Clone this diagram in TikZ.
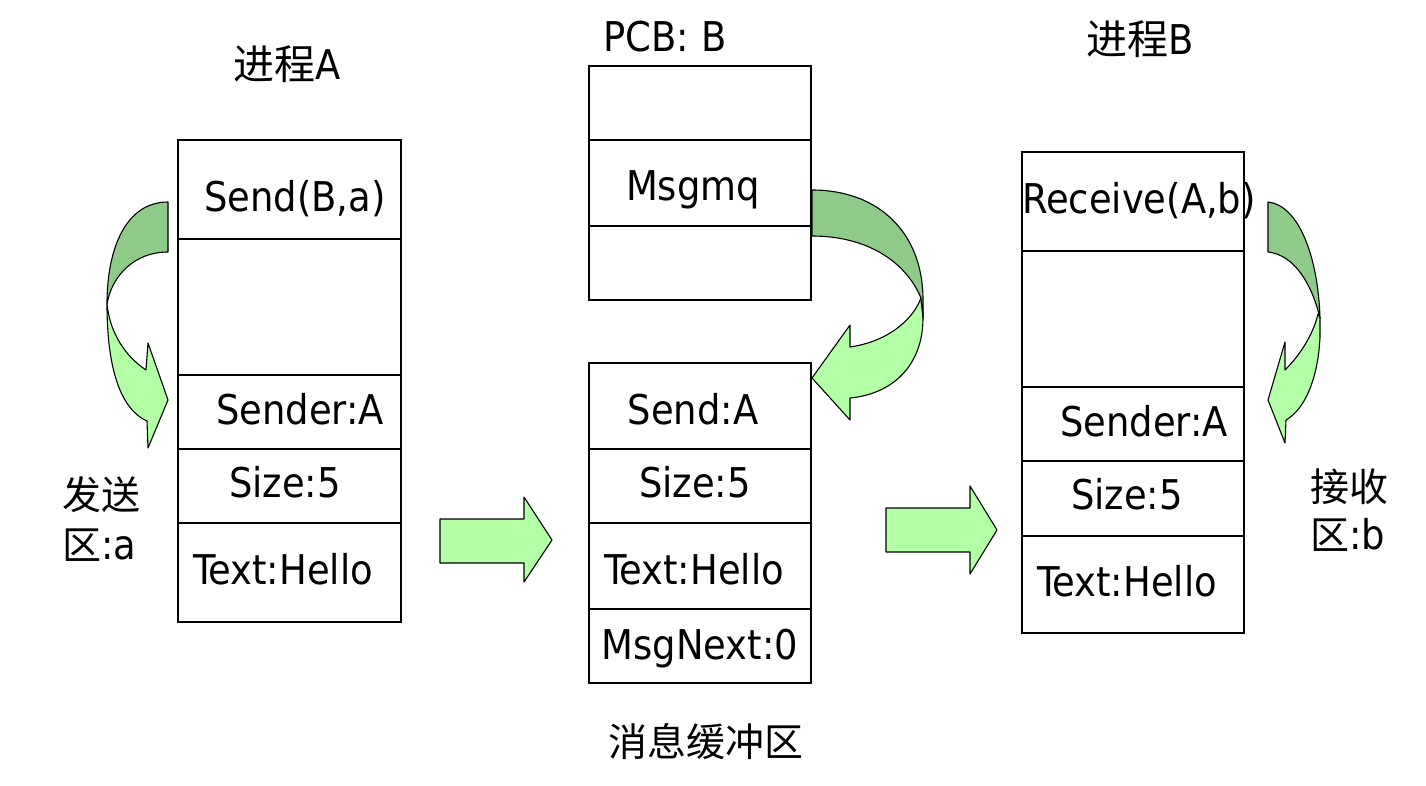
\documentclass[tikz,border=0pt]{standalone}
\usepackage{fontspec}
\setmainfont{DejaVu Sans Condensed}
\newfontfamily\cjk{Noto Sans CJK SC}
\definecolor{lightg}{HTML}{B3FFA6}
\definecolor{darkg}{HTML}{8FCB88}
\begin{document}
\begin{tikzpicture}[x=1pt,y=-1pt,
  cell/.style={draw=black,line width=1.3pt,inner sep=0pt,outer sep=0pt},
  acell/.style={cell,minimum width=223pt},
  bcell/.style={cell,minimum width=222pt},
  lbl/.style={anchor=base,inner sep=0pt,font=\fontsize{41}{48}\selectfont},
  zh/.style={anchor=base,inner sep=0pt,font=\fontsize{39}{48}\selectfont\cjk},
  shp/.style={draw=black,line width=1.1pt,line join=round}]
\useasboundingbox (0,0) rectangle (1426,786);
% Process A
\node[acell,minimum height=99pt] (a1) at (289.5,189.5) {};
\node[acell,minimum height=136pt] (a2) at (289.5,307) {};
\node[acell,minimum height=74pt] (a3) at (289.5,412) {};
\node[acell,minimum height=74pt] (a4) at (289.5,486) {};
\node[acell,minimum height=99pt] (a5) at (289.5,572.5) {};
% PCB B
\node[bcell,minimum height=74pt] (p1) at (700,103) {};
\node[bcell,minimum height=86pt] (p2) at (700,183) {};
\node[bcell,minimum height=74pt] (p3) at (700,263) {};
% buffer
\node[bcell,minimum height=86pt] (m1) at (700,406) {};
\node[bcell,minimum height=74pt] (m2) at (700,486) {};
\node[bcell,minimum height=86pt] (m3) at (700,566) {};
\node[bcell,minimum height=74pt] (m4) at (700,646) {};
% Process B
\node[bcell,minimum height=99pt] (b1) at (1133,201.5) {};
\node[bcell,minimum height=136pt] (b2) at (1133,319) {};
\node[bcell,minimum height=74pt] (b3) at (1133,424) {};
\node[bcell,minimum height=75pt] (b4) at (1133,498.5) {};
\node[bcell,minimum height=97pt] (b5) at (1133,584.5) {};
% texts
\node[lbl] (ta) at (287,80) {{\cjk 进程}A};
\node[lbl] (tp) at (665,52) {PCB: B};
\node[lbl] (tb) at (1140,55) {{\cjk 进程}B};
\node[lbl] (t1) at (295,212) {Send(B,a)};
\node[lbl] (t2) at (300,424) {Sender:A};
\node[lbl] (t3) at (285,497) {Size:5};
\node[lbl] (t4) at (283,584) {Text:Hello};
\node[lbl] (t5) at (693,201) {Msgmq};
\node[lbl] (t6) at (693,424) {Send:A};
\node[lbl] (t7) at (695,497) {Size:5};
\node[lbl] (t8) at (694,584) {Text:Hello};
\node[lbl] (t9) at (700,659) {MsgNext:0};
\node[zh] (t10) at (706,756) {消息缓冲区};
\node[lbl] (t11) at (1139,214) {Receive(A,b)};
\node[lbl] (t12) at (1144,436) {Sender:A};
\node[lbl] (t13) at (1127,509) {Size:5};
\node[lbl] (t14) at (1127,596) {Text:Hello};
\node[zh,anchor=base west] (s1) at (62,509) {发送};
\node[zh,anchor=base west] (s2) at (62,559) {区{\fontsize{41}{48}\selectfont\rmfamily :a}};
\node[zh,anchor=base west] (r1) at (1310,501) {接收};
\node[zh,anchor=base west] (r2) at (1310,549) {区{\fontsize{41}{48}\selectfont\rmfamily :b}};
% straight arrows
\draw[shp,fill=lightg] (440,519) -- (524,519) -- (524,497) -- (552,540) -- (524,582) -- (524,563) -- (440,563) -- cycle;
\draw[shp,fill=lightg] (886,508) -- (970,508) -- (970,486) -- (997,530) -- (970,574) -- (970,552) -- (886,552) -- cycle;
% curved arrow left (process A)
\draw[shp,fill=lightg] (107,304) .. controls (107,372) and (122,410) .. (147,421) -- (148,448) -- (168,400) -- (148,343) -- (146,370) .. controls (125,356) and (110,333) .. (107,304) -- cycle;
\draw[shp,fill=darkg] (168,202) .. controls (126,202) and (107,248) .. (107,304) .. controls (112,275) and (135,252) .. (168,252) -- cycle;
% curved arrow middle (PCB -> buffer)
\draw[shp,fill=lightg] (921,298) .. controls (923,305) and (923,310) .. (923,318) .. controls (923,365) and (893,394) .. (850,398) -- (850,420) -- (812,378) -- (850,325) -- (850,347) .. controls (885,342) and (912,322) .. (921,298) -- cycle;
\draw[shp,fill=darkg] (812,190) .. controls (878,190) and (923,232) .. (923,300) -- (923,318) .. controls (922,308) and (921,302) .. (921,298) .. controls (905,260) and (865,236) .. (812,236) -- cycle;
% curved arrow right (process B)
\draw[shp,fill=lightg] (1318,314) -- (1320,318) -- (1320,337) .. controls (1318,380) and (1304,410) .. (1286,420) -- (1285,443) -- (1268,400) -- (1285,342) -- (1285,370) .. controls (1300,355) and (1313,335) .. (1318,314) -- cycle;
\draw[shp,fill=darkg] (1268,202) .. controls (1298,205) and (1318,255) .. (1320,318) .. controls (1312,285) and (1295,255) .. (1268,252) -- cycle;
\end{tikzpicture}
\end{document}
